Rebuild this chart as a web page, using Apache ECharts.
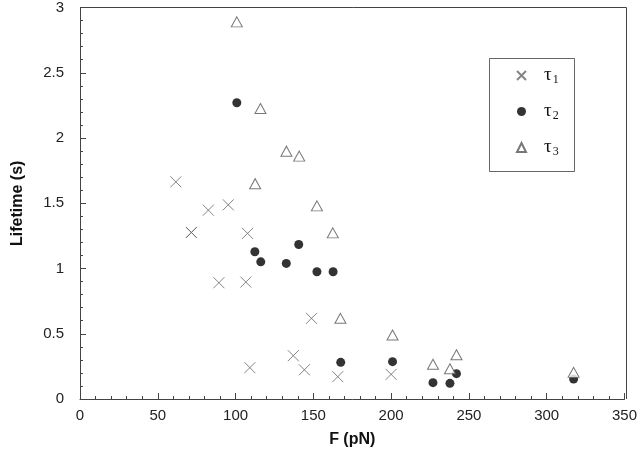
<!DOCTYPE html>
<html>
<head>
<meta charset="utf-8">
<script src="https://cdn.jsdelivr.net/npm/echarts@6/dist/echarts.min.js"></script>
<style>
  html, body { margin: 0; padding: 0; background: #fff; }
  #main { width: 640px; height: 460px; }
</style>
</head>
<body>
<div id="main"></div>
<script>
// force F (pN) vs lifetime (s)
var tau1 = [
  [61.6, 1.664], [82.5, 1.447], [95.3, 1.488], [71.6, 1.276], [71.6, 1.276],
  [107.7, 1.269], [89.3, 0.891], [106.6, 0.896], [109.2, 0.24], [148.8, 0.618],
  [137.1, 0.332], [144.2, 0.224], [165.7, 0.171], [200, 0.189]
]
var tau2 = [
  [100.8, 2.27], [112.4, 1.128], [116.2, 1.051], [132.6, 1.039], [140.6, 1.184],
  [152.3, 0.975], [162.7, 0.975], [167.6, 0.281], [200.9, 0.286], [226.9, 0.125],
  [237.8, 0.12], [242, 0.194], [317.3, 0.153]
]
var tau3 = [
  [100.8, 2.89], [116, 2.226], [132.7, 1.899], [140.9, 1.861], [112.6, 1.65],
  [152.3, 1.48], [162.5, 1.273], [167.4, 0.618], [200.9, 0.49], [226.9, 0.266],
  [237.8, 0.232], [242, 0.339], [317.3, 0.204]
]
var seriesNames = ['t1', 't2', 't3']
var subscripts = {t1: '1', t2: '2', t3: '3'}

var axisColor = '#444'
var font = 'Liberation Sans'
var nameStyle = {fontFamily: font, fontWeight: 'bold', fontSize: 16, color: '#111'}
var gridBox = {left: 80, right: 13, top: 7, bottom: 61}

var chart = echarts.init(document.getElementById('main'))
chart.setOption({
  backgroundColor: '#fff',
  animation: false,
  grid: gridBox,
  xAxis: {
    type: 'value', position: 'bottom', min: 0, max: 350, interval: 50,
    name: 'F (pN)', nameLocation: 'middle', nameGap: 33, nameTextStyle: nameStyle,
    axisLine: {show: true, lineStyle: {color: axisColor}},
    axisTick: {show: true, inside: true, length: 6, lineStyle: {color: axisColor}},
    minorTick: {show: true, splitNumber: 5, length: 3, lineStyle: {color: axisColor}},
    axisLabel: {margin: 9, fontFamily: font, fontSize: 15, color: '#222'},
    splitLine: {show: false}
  },
  yAxis: {
    type: 'value', position: 'left', min: 0, max: 3, interval: 0.5,
    name: 'Lifetime (s)', nameLocation: 'middle', nameGap: 54, nameTextStyle: nameStyle,
    axisLine: {show: true, lineStyle: {color: axisColor}},
    axisTick: {show: true, inside: true, length: 6, lineStyle: {color: axisColor}},
    minorTick: {show: true, splitNumber: 5, length: 3, lineStyle: {color: axisColor}},
    axisLabel: {margin: 16, fontFamily: font, fontSize: 15, color: '#222'},
    splitLine: {show: false}
  },
  graphic: [
    // top / right edges of the plot frame
    {
      type: 'polyline', z: -1, silent: true,
      shape: {points: [[80, 7.5], [626.5, 7.5], [626.5, 399]]},
      style: {fill: 'none', stroke: axisColor, lineWidth: 1}
    },
    {
      type: 'rect', left: 487, top: 56,
      shape: {width: 85, height: 113},
      style: {fill: 'none', stroke: '#666', lineWidth: 1}
    }
  ],
  legend: {
    orient: 'vertical', left: 511, top: 61, itemGap: 16,
    itemWidth: 9, itemHeight: 9,
    data: seriesNames,
    formatter: function (n) { return '{t|τ}{s|' + subscripts[n] + '}' },
    textStyle: {
      rich: {
        t: {fontFamily: 'Liberation Serif', fontSize: 19, color: '#111', padding: [0, 0, 0, 13]},
        s: {fontFamily: 'Liberation Serif', fontSize: 12, color: '#111', verticalAlign: 'bottom', padding: [9, 0, 0, 1]}
      }
    }
  },
  series: [
    {
      name: 't1', type: 'scatter', data: tau1,
      symbol: 'path://M0,0L10,10M10,0L0,10', symbolSize: 11,
      itemStyle: {color: 'transparent', borderColor: '#666', borderWidth: 1}
    },
    {
      name: 't2', type: 'scatter', data: tau2,
      symbol: 'circle', symbolSize: 9,
      itemStyle: {color: '#000', borderWidth: 0}
    },
    {
      name: 't3', type: 'scatter', data: tau3,
      symbol: 'triangle', symbolSize: [11, 10],
      itemStyle: {color: '#fff', borderColor: '#555', borderWidth: 1}
    }
  ]
})
window.onresize = chart.resize
</script>
</body>
</html>
